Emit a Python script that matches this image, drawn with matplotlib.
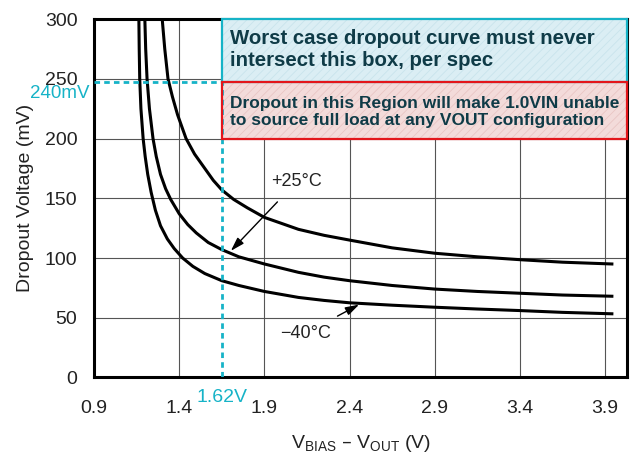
import matplotlib
matplotlib.use('Agg')
import matplotlib.pyplot as plt
from matplotlib.patches import Rectangle

plt.rcParams['font.family'] = ['Liberation Sans', 'DejaVu Sans']
plt.rcParams['hatch.linewidth'] = 0.6

# curves: V_BIAS - V_OUT (V) vs dropout (mV)
x_m40 = [1.163, 1.165, 1.168, 1.175, 1.188, 1.20, 1.215, 1.235, 1.26, 1.29, 1.33,
         1.37, 1.42, 1.48, 1.55, 1.65, 1.75, 1.90, 2.00, 2.10, 2.25, 2.40, 2.65,
         2.90, 3.15, 3.40, 3.65, 3.94]
y_m40 = [300, 275, 250, 225, 200, 185, 170, 155, 140, 127, 116,
         108, 100, 93, 87, 81, 77, 72, 69.5, 67, 64.5, 62.5, 60.5,
         58.8, 57.3, 56, 54.5, 53.3]

x_p25 = [1.198, 1.203, 1.211, 1.225, 1.246, 1.265, 1.29, 1.32, 1.35, 1.40, 1.45,
         1.50, 1.57, 1.65, 1.75, 1.90, 2.00, 2.10, 2.25, 2.40, 2.65, 2.90, 3.15,
         3.40, 3.65, 3.94]
y_p25 = [300, 275, 250, 225, 200, 185, 170, 158, 149, 137, 128,
         121, 113, 107, 101, 95, 91.5, 88, 84, 81, 77, 74, 72,
         70.5, 69, 68]

x_hot = [1.30, 1.315, 1.334, 1.36, 1.39, 1.44, 1.49, 1.55, 1.60, 1.65, 1.72,
         1.80, 1.90, 2.00, 2.10, 2.25, 2.40, 2.65, 2.90, 3.15, 3.40, 3.65, 3.94]
y_hot = [300, 275, 250, 235, 220, 200, 187, 175, 165, 157, 149,
         142, 134, 129, 124, 119, 115, 108.5, 104, 101, 98.6, 96.5, 95]

x_ticks = [0.9, 1.4, 1.9, 2.4, 2.9, 3.4, 3.9]
y_ticks = [0, 50, 100, 150, 200, 250, 300]

spec_v = 1.65      # where the dashed marker is drawn
spec_mv = 247
spec_v_label = '1.62V'
spec_mv_label = '240mV'
box_top = 300
box_bottom = 200

xmin, xmax = 0.9, 4.03
cyan = '#16b3c7'
text_col = '#0f3b47'

fig = plt.figure(figsize=(6.4, 4.66), dpi=100)
ax = fig.add_axes([0.147, 0.19, 0.833, 0.769])

ax.set_xlim(xmin, xmax)
ax.set_ylim(0, 300)
ax.set_xticks(x_ticks)
ax.set_yticks(y_ticks)
ax.grid(True, color='#555555', lw=0.8)
ax.set_axisbelow(True)
ax.tick_params(length=0, labelsize=14, colors='#222222')
ax.tick_params(axis='x', pad=16)
ax.tick_params(axis='y', pad=12)
for s in ax.spines.values():
    s.set_linewidth(2.2)
    s.set_color('black')

for xs, ys in [(x_m40, y_m40), (x_p25, y_p25), (x_hot, y_hot)]:
    ax.plot(xs, ys, color='black', lw=2.2, zorder=3, solid_joinstyle='round')

# spec boxes
def spec_box(y0, y1, face, hatch_col, edge):
    ax.add_patch(Rectangle((spec_v, y0), xmax - spec_v, y1 - y0, facecolor=face,
                           edgecolor='none', zorder=4))
    ax.add_patch(Rectangle((spec_v, y0), xmax - spec_v, y1 - y0, facecolor='none',
                           edgecolor=hatch_col, hatch='////', lw=0, zorder=4))
    ax.add_patch(Rectangle((spec_v, y0), xmax - spec_v, y1 - y0, facecolor='none',
                           edgecolor=edge, lw=1.6, zorder=5, clip_on=False))

spec_box(spec_mv, box_top, '#dbeef4', '#c9e4ec', cyan)
spec_box(box_bottom, spec_mv, '#f3dbda', '#e9c6c4', '#e3161b')

ax.text(1.70, 274.5, 'Worst case dropout curve must never\nintersect this box, per spec',
        fontsize=14.7, fontweight='bold', color=text_col, va='center', ha='left',
        linespacing=1.18, zorder=6)
ax.text(1.70, 222.5, 'Dropout in this Region will make 1.0VIN unable\nto source full load at any VOUT configuration',
        fontsize=12.5, fontweight='bold', color=text_col, va='center', ha='left',
        linespacing=1.18, zorder=6)

# dashed spec markers
ax.plot([xmin, spec_v], [spec_mv, spec_mv], color=cyan, lw=2, ls=(0, (2, 1.5)), zorder=4)
ax.plot([spec_v, spec_v], [0, spec_mv], color=cyan, lw=2, ls=(0, (2, 1.5)), zorder=4)
ax.text(-0.008, 237.5, spec_mv_label, transform=ax.get_yaxis_transform(),
        ha='right', va='center', color=cyan, fontsize=13.5)
ax.text(spec_v, -0.055, spec_v_label, transform=ax.get_xaxis_transform(),
        ha='center', va='center', color=cyan, fontsize=14)

# curve labels
arrow = dict(arrowstyle='-|>,head_length=0.55,head_width=0.17', color='black',
             lw=1, mutation_scale=15, shrinkA=9, shrinkB=0)
ax.annotate('+25°C', xy=(1.703, 106), xytext=(2.09, 164), fontsize=13,
            ha='center', va='center', color='#222222', arrowprops=arrow)
ax.annotate('\u221240°C', xy=(2.456, 61), xytext=(2.14, 37), fontsize=13,
            ha='center', va='center', color='#222222', arrowprops=arrow)

ax.set_ylabel('Dropout Voltage (mV)', fontsize=14, color='#222222', labelpad=8)
ax.set_xlabel('V$_{\\mathregular{BIAS}}$ \u2013 V$_{\\mathregular{OUT}}$ (V)',
              fontsize=14, color='#222222', labelpad=12)

fig.savefig('out.png', dpi=100)
